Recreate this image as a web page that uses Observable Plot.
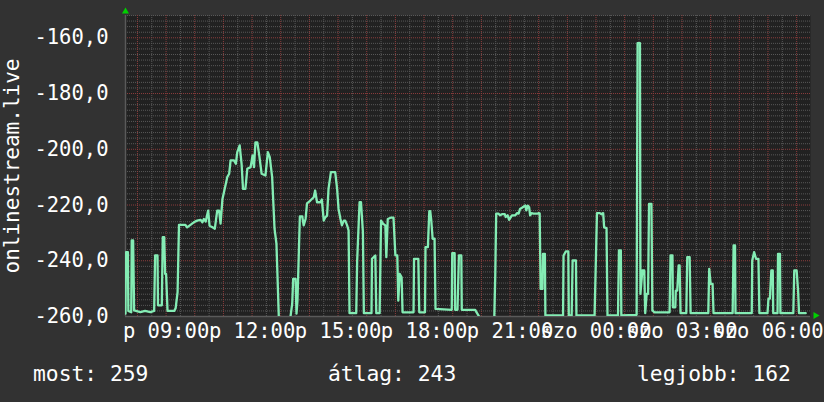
<!DOCTYPE html>
<html><head><meta charset="utf-8">
<script src="https://cdn.jsdelivr.net/npm/d3@7"></script>
<script src="https://cdn.jsdelivr.net/npm/@observablehq/plot@0.6"></script>
<style>
html,body{margin:0;padding:0;background:#323232;}
#wrap{position:relative;width:824px;height:402px;overflow:hidden;background:#323232;}
#chart svg{display:block;}
#legend{position:absolute;left:0;top:352px;width:824px;height:50px;font-family:"DejaVu Sans Mono",monospace;font-size:21.3px;color:#ffffff;}
#legend span{position:absolute;top:11px;line-height:21px;white-space:pre;}
</style>
</head><body>
<div id="wrap"><div id="chart"></div><div id="legend"></div></div>
<script>
// time of each sample (Friday "p" → Saturday "szo"; day rolls over when the clock wraps)
const times = [
"07:35","07:36","07:40","07:41","07:47","07:48","07:51","07:53","08:06","08:16","08:27","08:35","08:37","08:42","08:43","08:51","08:53","08:56","08:58","09:00",
"09:03","09:17","09:20","09:24","09:27","09:40","09:44","09:51","09:58","10:05","10:12","10:16","10:19","10:23","10:28","10:31","10:37","10:42","10:47","10:51",
"10:54","10:58","11:08","11:12","11:15","11:22","11:26","11:29","11:34","11:38","11:41","11:46","11:50","11:57","12:01","12:04","12:07","12:11","12:15","12:20",
"12:28","12:33","12:37","12:42","12:47","12:51","12:56","13:20","13:24","13:26","13:31","13:33","13:35","13:40","13:45","13:48","13:52","13:55","14:02","14:09",
"14:12","14:16","14:23","14:26","14:30","14:33","14:37","14:40","14:45","14:54","14:58","15:01","15:05","15:08","15:12","15:15","15:19","15:22","15:24","15:38",
"15:40","15:45","15:48","15:52","15:54","16:10","16:11","16:18","16:20","16:27","16:30","16:34","16:39","16:41","16:44","16:51","16:56","17:00","17:04","17:06",
"17:09","17:13","17:15","17:38","17:39","17:48","17:50","18:02","18:03","18:08","18:11","18:13","18:15","18:18","18:22","18:24","18:58","18:59","19:04","19:05",
"19:10","19:13","19:18","19:19","19:47","19:50","19:57","20:27","20:29","20:31","20:36","20:39","20:43","20:49","20:51","20:55","20:58","21:04","21:11","21:15",
"21:18","21:21","21:25","21:32","21:34","21:37","21:40","21:42","21:45","21:49","21:58","22:00","22:02","22:04","22:08","22:09","22:13","22:14","22:51","22:52",
"22:57","23:02","23:03","23:09","23:11","23:18","23:19","23:57","23:59","00:02","00:08","00:11","00:15","00:17","00:22","00:24","00:46","00:48","00:52","00:53",
"01:25","01:27","01:32","01:33","01:37","01:41","01:43","01:46","01:49","01:51","01:56","01:58","02:02","02:34","02:36","02:40","02:41","02:46","02:47","02:50",
"02:53","02:55","02:57","03:09","03:11","03:16","03:18","03:55","03:57","04:00","04:04","04:06","04:46","04:48","04:51","04:52","05:26","05:27","05:31","05:35",
"05:40","05:42","05:59","06:01","06:04","06:07","06:10","06:11","06:20","06:21","06:25","06:26","06:53","06:55","07:00","07:03","07:05","07:19"
];
const values = [
-259,-236.9,-236.9,-258,-258.5,-232.7,-232.7,-257.8,-258.4,-258,-258.4,-258,-238.1,-238.1,-256,-256,-231.5,-231.5,-244.7,-244.7,
-258,-258,-257,-251.3,-227.1,-227.1,-228,-227.1,-226.2,-225.6,-225.3,-226.2,-225,-225.9,-222,-227.4,-228,-228.5,-222,-222,
-226.7,-217.8,-210,-208.8,-204,-204,-205.2,-201,-198.6,-205.2,-214.2,-214.2,-207,-206.4,-202.2,-206.4,-197.5,-197.5,-202.2,-208.8,
-209.4,-201,-202.8,-210,-228.5,-233.9,-260.5,-260.5,-255.4,-246.5,-246.5,-259,-254.3,-224.1,-224.1,-227.3,-225,-219.4,-218.4,-217.2,
-214.8,-219,-219,-218,-225.6,-224.5,-223.8,-214.2,-208.2,-208.2,-214.2,-221.4,-225,-227.3,-225.6,-225.6,-227.3,-229.1,-258.8,-258.8,
-239.9,-219,-219,-229.7,-258.8,-258.8,-239.3,-238.1,-258.8,-258.8,-225.6,-226.7,-227.3,-238.7,-225,-224.5,-224.5,-238.1,-238.1,-254.3,
-244.7,-245.9,-258.5,-258.5,-239.3,-239.3,-258.5,-258.5,-235.1,-235.1,-222.2,-222.2,-225.3,-232.1,-232.1,-257.3,-257.6,-237.3,-237.3,-257.6,
-257.6,-238.1,-238.1,-257.6,-257.6,-258.5,-260.5,-260.5,-245.6,-223.1,-223.1,-223.7,-223.3,-223.3,-224.3,-223.7,-225.3,-223.7,-223.7,-222.9,
-223.1,-221.4,-221,-220.2,-221.9,-220.2,-220.8,-223.7,-222.9,-223.1,-223.1,-222.9,-223,-250.1,-250.1,-237.5,-237.5,-259.6,-259.6,-238.1,
-236.6,-236.6,-259.6,-259.6,-239.9,-239.9,-259.6,-259.6,-244.7,-222.9,-222.9,-223.3,-222.9,-228,-228.3,-259.6,-259.6,-236.3,-236.3,-259.6,
-259.4,-161.9,-161.9,-251.9,-243.5,-243.5,-258.8,-251.9,-251.9,-219.6,-219.6,-257.8,-258.5,-258.5,-238.1,-238.1,-256.7,-256.7,-250.7,-250.7,
-241.7,-241.7,-258.8,-258.8,-238.7,-238.7,-258.8,-258.8,-242.9,-248.3,-248.3,-258.8,-258.8,-234.5,-234.5,-258.8,-258.8,-239.9,-236.9,-239.3,
-239.3,-258.8,-258.8,-253.6,-253.6,-243.5,-243.5,-258.8,-258.8,-237.5,-237.5,-258.8,-258.8,-243.5,-243.5,-250.7,-258.8,-258.8
];
const yTicks = [-260, -240, -220, -200, -180, -160];
const dayNames = ["p", "szo"];
const axisTitle = "onlinestream.live";
const legendItems = [["most: 259", 33], ["átlag: 243", 328], ["legjobb: 162", 637]];

const base = Date.UTC(2024, 2, 15); // a Friday
let day = 0, prev = -1;
const data = times.map((t, i) => {
  const [h, m] = t.split(":").map(Number);
  const mins = h * 60 + m;
  if (mins < prev) day++;
  prev = mins;
  return {t: new Date(base + (day * 1440 + mins) * 60000), v: values[i]};
});
const start = new Date(base + (7 * 60 + 35) * 60000);
const end = new Date(base + (1440 + 7 * 60 + 29) * 60000);

const xMinor = d3.utcMinute.every(30).range(start, end).filter(d => d.getUTCMinutes() !== 0);
const xMajor = d3.utcHour.range(start, end);
const xLabels = d3.utcHour.every(3).range(start, end);
const yMinor = d3.range(-258, -151, 2).filter(v => v % 20 !== 0);
const yMajor = yTicks.filter(v => v !== -260);
const fmtHM = d3.utcFormat("%H:%M");

const chart = Plot.plot({
  width: 824, height: 352,
  marginLeft: 125, marginRight: 14, marginTop: 15, marginBottom: 36,
  style: {background: "#323232", color: "#ffffff", fontFamily: "'DejaVu Sans Mono', monospace", fontSize: "20px"},
  x: {type: "utc", domain: [start, end]},
  y: {domain: [-260, -152]},
  marks: [
    Plot.frame({fill: "#212121", stroke: "none"}),
    Plot.ruleY(yMinor, {stroke: "#585858", strokeDasharray: "1,1"}),
    Plot.ruleX(xMinor, {stroke: "#585858", strokeDasharray: "1,1"}),
    Plot.ruleY(yMajor, {stroke: "#8c3c3c", strokeDasharray: "1,1"}),
    Plot.ruleX(xMajor, {stroke: "#8c3c3c", strokeDasharray: "1,1"}),
    Plot.ruleY([-260], {stroke: "#5a5a5a", strokeWidth: 1.5}),
    Plot.ruleX([start], {stroke: "#5a5a5a", strokeWidth: 1.5}),
    Plot.axisY({ticks: yTicks, tickFormat: d => d.toFixed(1).replace(".", ","), tickSize: 0, tickPadding: 17, fontSize: 20.5, label: null}),
    Plot.axisX({ticks: xLabels, tickFormat: d => dayNames[d.getUTCDate() === 15 ? 0 : 1] + " " + fmtHM(d), tickSize: 0, tickPadding: 7, fontSize: 20.5, label: null}),
    Plot.text([axisTitle], {text: d => d, frameAnchor: "left", rotate: -90, dx: -113, textAnchor: "middle", lineAnchor: "middle", fontSize: 21, fill: "#ffffff"}),
    Plot.line(data, {x: "t", y: "v", stroke: "#84ecb4", strokeWidth: 2.3, clip: true}),
    Plot.dot([start], {x: d => d, y: () => -152, symbol: "triangle", r: 2.6, fill: "#00d000", stroke: "none", dy: -4}),
    Plot.dot([end], {x: d => d, y: () => -260, symbol: "triangle", r: 2.6, fill: "#00d000", stroke: "none", dx: 5, dy: -1, rotate: 90})
  ]
});
document.getElementById("chart").appendChild(chart);
const legend = document.getElementById("legend");
for (const [txt, left] of legendItems) {
  const s = document.createElement("span");
  s.textContent = txt;
  s.style.left = left + "px";
  legend.appendChild(s);
}
</script>
</body></html>
